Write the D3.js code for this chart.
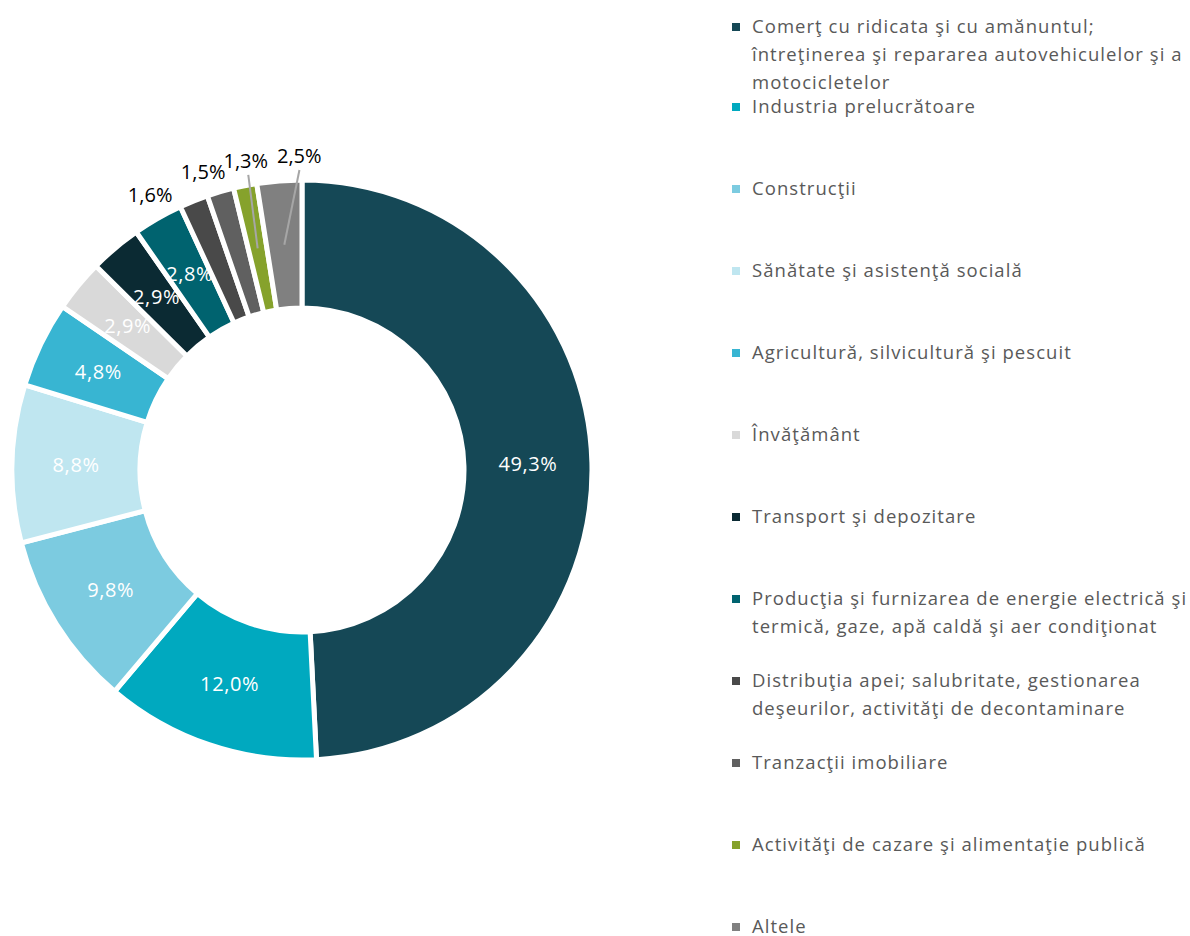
<!DOCTYPE html>
<html>
<head>
<meta charset="utf-8">
<script src="https://d3js.org/d3.v7.min.js"></script>
<style>
  body { margin: 0; background: #fff; }
  svg text { font-family: "Open Sans", Lato, sans-serif; }
</style>
</head>
<body>
<svg width="1190" height="936"></svg>
<script>
// categories (legend lines kept as they wrap in the original)
var categories = [
  ["Comerţ cu ridicata şi cu amănuntul;", "întreţinerea şi repararea autovehiculelor şi a", "motocicletelor"],
  ["Industria prelucrătoare"],
  ["Construcţii"],
  ["Sănătate şi asistenţă socială"],
  ["Agricultură, silvicultură şi pescuit"],
  ["Învăţământ"],
  ["Transport şi depozitare"],
  ["Producţia şi furnizarea de energie electrică şi", "termică, gaze, apă caldă şi aer condiţionat"],
  ["Distribuţia apei; salubritate, gestionarea", "deşeurilor, activităţi de decontaminare"],
  ["Tranzacţii imobiliare"],
  ["Activităţi de cazare şi alimentaţie publică"],
  ["Altele"]
];
var values = [49.3, 12.0, 9.8, 8.8, 4.8, 2.9, 2.9, 2.8, 1.6, 1.5, 1.3, 2.5];
var colors = ["#154856", "#00a9bf", "#7ccbe0", "#bfe6f0", "#38b5d2", "#d9d9d9",
              "#0b2a33", "#00636f", "#494949", "#606060", "#86a22c", "#808080"];
// slices whose label sits outside the ring, with a small angle nudge (degrees)
var outside = {8: -7, 9: -2, 10: 1, 11: 4};
var leader = {10: true, 11: true};

var svg = d3.select("svg");
var cx = 302, cy = 470, rOut = 290, rIn = 162;
var g = svg.append("g").attr("transform", "translate(" + cx + "," + cy + ")");

var pie = d3.pie().sort(null).value(function(d) { return d; });
var arc = d3.arc().innerRadius(rIn).outerRadius(rOut);
var arcs = pie(values);

g.selectAll("path.slice")
  .data(arcs)
  .enter().append("path")
  .attr("class", "slice")
  .attr("d", arc)
  .attr("fill", function(d, i) { return colors[i]; })
  .attr("stroke", "#fff")
  .attr("stroke-width", 5)
  .attr("stroke-linejoin", "miter");

function fmt(v) { return v.toFixed(1).replace(".", ",") + "%"; }
function polar(a, r) { return [Math.sin(a) * r, -Math.cos(a) * r]; }

// leader lines
arcs.forEach(function(d, i) {
  if (!leader[i]) return;
  var mid = (d.startAngle + d.endAngle) / 2;
  var a2 = mid + outside[i] * Math.PI / 180;
  var p1 = arc.centroid(d);
  var p2 = polar(a2, 300);
  g.append("line")
    .attr("x1", p1[0]).attr("y1", p1[1])
    .attr("x2", p2[0]).attr("y2", p2[1])
    .attr("stroke", "#a6a6a6").attr("stroke-width", 2);
});

g.selectAll("text.lbl")
  .data(arcs)
  .enter().append("text")
  .attr("class", "lbl")
  .attr("transform", function(d, i) {
    if (outside[i] !== undefined) {
      var mid = (d.startAngle + d.endAngle) / 2 + outside[i] * Math.PI / 180;
      var p = polar(mid, 314);
      return "translate(" + p + ")";
    }
    return "translate(" + arc.centroid(d) + ")";
  })
  .attr("text-anchor", "middle")
  .attr("dy", "0.35em")
  .attr("font-size", 20)
  .attr("letter-spacing", function(d, i) { return outside[i] !== undefined ? 0 : 0.6; })
  .attr("fill", function(d, i) { return outside[i] !== undefined ? "#000" : "#fff"; })
  .text(function(d) { return fmt(d.data); });

// legend
var leg = svg.append("g");
var lineH = 28;
categories.forEach(function(lines, i) {
  var y0 = 27 + 82 * i - (i > 0 ? 2 : 0);
  leg.append("rect")
    .attr("x", 732).attr("y", y0 - 4)
    .attr("width", 8).attr("height", 8)
    .attr("fill", colors[i]);
  var t = leg.append("text")
    .attr("x", 752).attr("y", y0)
    .attr("font-size", 18.5)
    .attr("letter-spacing", 1.05)
    .attr("fill", "#595959");
  lines.forEach(function(s, j) {
    t.append("tspan").attr("x", 752).attr("y", y0 + j * lineH).attr("dy", "0.35em").text(s);
  });
});
</script>
</body>
</html>
